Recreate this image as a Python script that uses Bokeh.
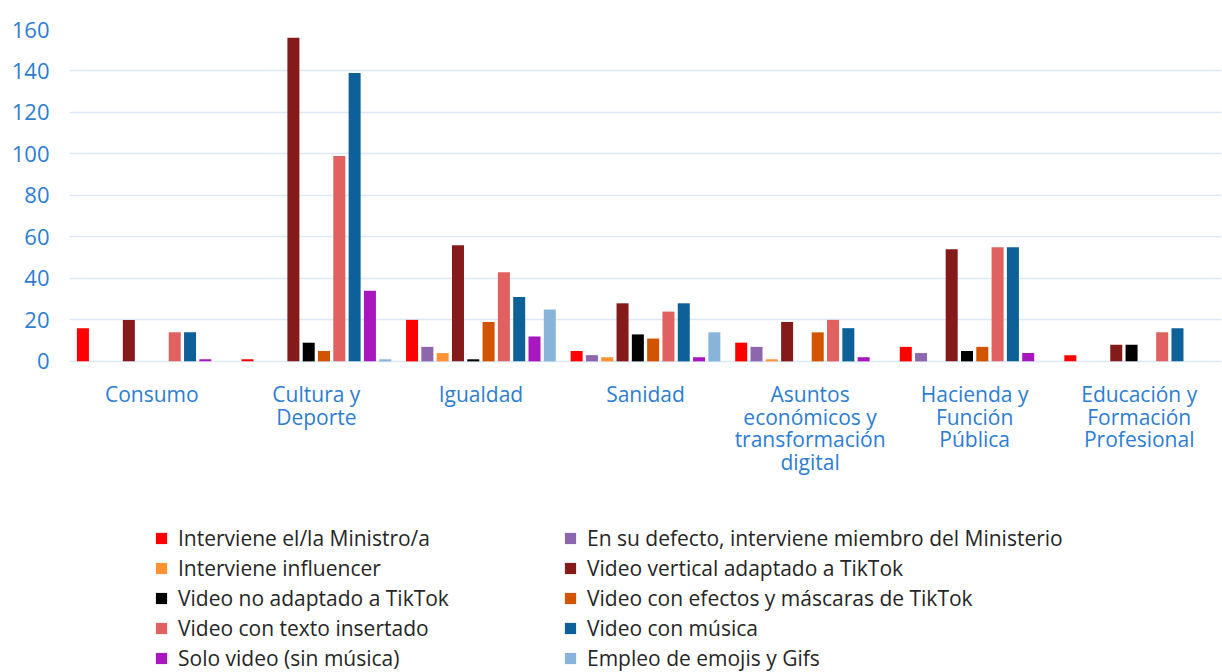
from bokeh.plotting import figure
from bokeh.models import ColumnDataSource, FactorRange, Range1d, FixedTicker, Legend, LegendItem
from bokeh.transform import dodge
from bokeh.core.properties import value
from bokeh.embed import file_html
from bokeh.resources import INLINE

categories = ["Consumo", "Cultura y\nDeporte", "Igualdad", "Sanidad",
              "Asuntos\neconómicos y\ntransformación\ndigital",
              "Hacienda y\nFunción\nPública",
              "Educación y\nFormación\nProfesional"]

series_names = ["Interviene el/la Ministro/a",
                "En su defecto, interviene miembro del Ministerio",
                "Interviene influencer",
                "Video vertical adaptado a TikTok",
                "Video no adaptado a TikTok",
                "Video con efectos y máscaras de TikTok",
                "Video con texto insertado",
                "Video con música",
                "Solo video (sin música)",
                "Empleo de emojis y Gifs"]

ministro   = [16, 1, 20, 5, 9, 7, 3]
miembro    = [0, 0, 7, 3, 7, 4, 0]
influencer = [0, 0, 4, 2, 1, 0, 0]
vertical   = [20, 156, 56, 28, 19, 54, 8]
no_adapt   = [0, 9, 1, 13, 0, 5, 8]
efectos    = [0, 5, 19, 11, 14, 7, 0]
texto      = [14, 99, 43, 24, 20, 55, 14]
musica     = [14, 139, 31, 28, 16, 55, 16]
solo       = [1, 34, 12, 2, 2, 4, 0]
emojis     = [0, 1, 25, 14, 0, 0, 0]

y_ticks = [0, 20, 40, 60, 80, 100, 120, 140, 160]

series_values = [ministro, miembro, influencer, vertical, no_adapt,
                 efectos, texto, musica, solo, emojis]
colors = ["#FF0000", "#8C67AB", "#FF9333", "#841B1A", "#000000",
          "#D35400", "#E0615F", "#0D6198", "#A717BD", "#89B4D9"]

keys = ["s%d" % i for i in range(len(series_values))]
data = {"cat": categories}
for k, v in zip(keys, series_values):
    data[k] = v
source = ColumnDataSource(data)

FONT = "Open Sans"
BLUE_TXT = "#2d7dd2"

# frame runs down to the bottom of the canvas so that the legend
# (drawn inside the frame) is not clipped; value 0 sits at the chart baseline
p = figure(x_range=FactorRange(*categories, range_padding=0),
           y_range=Range1d(-150, 160),
           width=1222, height=672, output_backend="svg",
           toolbar_location=None, min_border_left=69, min_border_right=1,
           min_border_top=29, min_border_bottom=0)

step = 0.093
bw = 0.073
items = []
for i, (k, c, name) in enumerate(zip(keys, colors, series_names)):
    off = (i - 4.5) * step
    r = p.vbar(x=dodge("cat", off, range=p.x_range), top=k, width=bw,
               source=source, color=c, line_color=None)
    items.append(LegendItem(label=name, renderers=[r]))

# category labels under the baseline
p.text(x="cat", y=-9, text="cat", source=source,
       text_font=value(FONT), text_font_size="21px", text_color=BLUE_TXT,
       text_align="center", text_baseline="top", text_line_height=0.81)

p.outline_line_color = None
p.xgrid.grid_line_color = None
p.ygrid.grid_line_color = "#dbe8f8"
p.ygrid.grid_line_width = 1.5
p.yaxis.ticker = FixedTicker(ticks=y_ticks)
p.xaxis.visible = False

p.yaxis.axis_line_color = None
p.yaxis.major_tick_line_color = None
p.yaxis.minor_tick_line_color = None
p.yaxis.major_label_text_font = FONT
p.yaxis.major_label_text_color = BLUE_TXT
p.yaxis.major_label_text_font_size = "22px"
p.yaxis.major_label_standoff = 20
p.yaxis.major_tick_out = 0

legend = Legend(items=items, orientation="horizontal", ncols=2,
                location=(85, 0),
                label_text_font=FONT, label_text_font_size="21px",
                label_text_color="#262626",
                glyph_width=14, glyph_height=14, label_standoff=10,
                label_width=383, spacing=2, padding=0, margin=0,
                border_line_color=None, background_fill_alpha=0)
p.add_layout(legend, "center")

open("out.html", "w").write(file_html(p, INLINE))
